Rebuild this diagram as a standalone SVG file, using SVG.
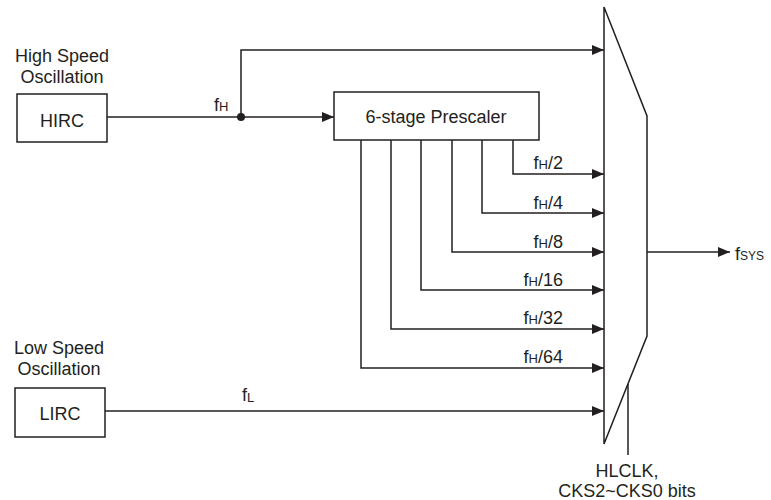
<svg xmlns="http://www.w3.org/2000/svg" width="771" height="500" viewBox="0 0 771 500">
<style>
  text { font-family: "Liberation Sans", Arial, sans-serif; font-size: 18px; fill: #231f20; }
  .sub { font-size: 13px; }
  .sub2 { font-size: 12px; }
  .box { fill: #ffffff; stroke: #231f20; stroke-width: 1.5; }
  .wire { fill: none; stroke: #231f20; stroke-width: 1.5; }
</style>
<defs>
  <marker id="arr" viewBox="0 0 12 10" refX="12" refY="5" markerWidth="12" markerHeight="10" markerUnits="userSpaceOnUse" orient="auto">
    <path d="M0,0 L12,5 L0,10 Z" fill="#231f20"/>
  </marker>
</defs>
<rect width="771" height="500" fill="#ffffff"/>

<g id="hirc">
  <text x="62" y="62" text-anchor="middle">High Speed</text>
  <text x="62" y="83" text-anchor="middle">Oscillation</text>
  <rect class="box" x="17" y="94" width="90" height="48"/>
  <text x="62" y="127" text-anchor="middle">HIRC</text>
</g>

<g id="lirc">
  <text x="59" y="354" text-anchor="middle">Low Speed</text>
  <text x="59" y="375" text-anchor="middle">Oscillation</text>
  <rect class="box" x="15" y="388" width="90" height="49"/>
  <text x="60" y="420" text-anchor="middle">LIRC</text>
</g>

<g id="prescaler">
  <rect class="box" x="334" y="92" width="205" height="48"/>
  <text x="436" y="123" text-anchor="middle">6-stage Prescaler</text>
</g>

<g id="mux">
  <polygon class="box" points="604,7 647,116 647,336 604,444"/>
</g>

<g id="connectors">
  <path class="wire" d="M107,117 H334" marker-end="url(#arr)"/>
  <path class="wire" d="M241,117 V50 H604" marker-end="url(#arr)"/>
  <circle cx="241" cy="117" r="4" fill="#231f20"/>
  <path class="wire" d="M513,140 V174 H604" marker-end="url(#arr)"/>
  <path class="wire" d="M482,140 V213 H604" marker-end="url(#arr)"/>
  <path class="wire" d="M452,140 V252 H604" marker-end="url(#arr)"/>
  <path class="wire" d="M421,140 V290 H604" marker-end="url(#arr)"/>
  <path class="wire" d="M391,140 V329 H604" marker-end="url(#arr)"/>
  <path class="wire" d="M361,140 V368 H604" marker-end="url(#arr)"/>
  <path class="wire" d="M105,411 H604" marker-end="url(#arr)"/>
  <path class="wire" d="M647,252 H730" marker-end="url(#arr)"/>
  <path class="wire" d="M628,384 V455"/>
</g>

<g id="labels">
  <text x="214" y="111">f<tspan class="sub">H</tspan></text>
  <text x="563" y="169" text-anchor="end">f<tspan class="sub">H</tspan>/2</text>
  <text x="563" y="209" text-anchor="end">f<tspan class="sub">H</tspan>/4</text>
  <text x="563" y="248" text-anchor="end">f<tspan class="sub">H</tspan>/8</text>
  <text x="563" y="286" text-anchor="end">f<tspan class="sub">H</tspan>/16</text>
  <text x="563" y="324" text-anchor="end">f<tspan class="sub">H</tspan>/32</text>
  <text x="563" y="363" text-anchor="end">f<tspan class="sub">H</tspan>/64</text>
  <text x="242" y="401">f<tspan class="sub" dy="1">L</tspan></text>
  <text x="735" y="260">f<tspan class="sub2">SYS</tspan></text>
  <text x="627" y="477" text-anchor="middle">HLCLK,</text>
  <text x="627" y="497" text-anchor="middle">CKS2~CKS0 bits</text>
</g>
</svg>
